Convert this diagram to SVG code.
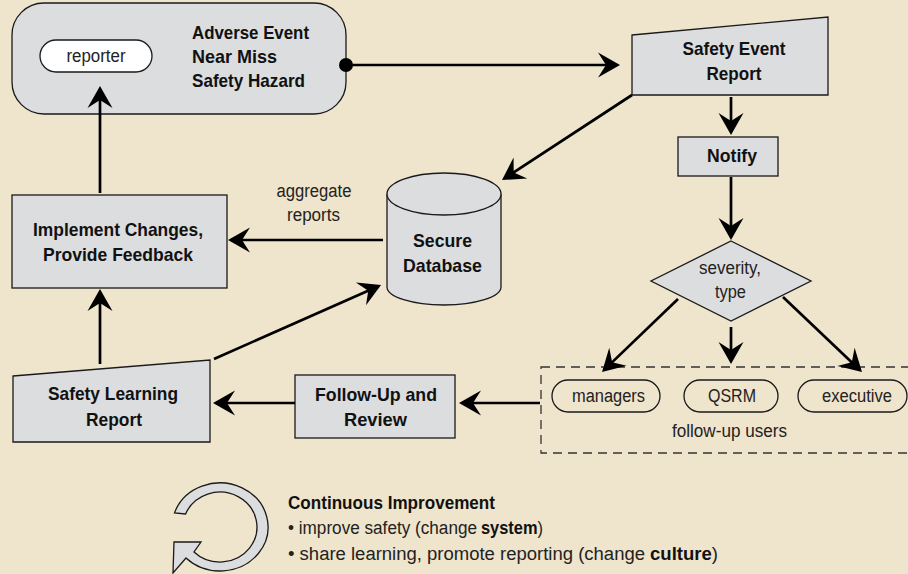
<svg xmlns="http://www.w3.org/2000/svg" width="908" height="574" viewBox="0 0 908 574">
<defs>
<style>
.bg{fill:#EFE4CC}
.box{fill:#DCDDDF;stroke:#1a1a1a;stroke-width:1.3}
.pill{fill:#FFFFFF;stroke:#1a1a1a;stroke-width:1.3}
.pillg{fill:none;stroke:#1a1a1a;stroke-width:1.3}
.dash{fill:none;stroke:#333;stroke-width:1.3;stroke-dasharray:9 6}
.conn line{stroke:#000;stroke-width:2.7;fill:none}
.b{font-family:"Liberation Sans Narrow","Liberation Sans",Arial,sans-serif;font-weight:bold;font-size:19px;fill:#111}
.r{font-family:"Liberation Sans Narrow","Liberation Sans",Arial,sans-serif;font-weight:normal;font-size:18px;fill:#222}
.m{text-anchor:middle}
</style>
<marker id="ah" markerUnits="userSpaceOnUse" markerWidth="28" markerHeight="28" viewBox="0 0 28 28" refX="22" refY="14" orient="auto">
<path d="M25,14 L3,1.5 L11,14 L3,26.5 Z" fill="#000"/>
</marker>
</defs>
<rect class="bg" x="0" y="0" width="908" height="574"/>

<g id="event">
<rect class="box" x="12" y="3" width="334" height="111" rx="32" ry="32"/>
<rect class="pill" x="40" y="40" width="112" height="32" rx="16" ry="16"/>
<text class="r m" x="96" y="62" textLength="59" lengthAdjust="spacingAndGlyphs">reporter</text>
<text class="b" x="192" y="39" textLength="117" lengthAdjust="spacingAndGlyphs">Adverse Event</text>
<text class="b" x="192" y="63" textLength="85" lengthAdjust="spacingAndGlyphs">Near Miss</text>
<text class="b" x="192" y="87" textLength="113" lengthAdjust="spacingAndGlyphs">Safety Hazard</text>
</g>

<g id="safety-event-report">
<polygon class="box" points="632,35 828,17 828,95 632,95"/>
<text class="b m" x="734" y="55" textLength="103" lengthAdjust="spacingAndGlyphs">Safety Event</text>
<text class="b m" x="734" y="80" textLength="55" lengthAdjust="spacingAndGlyphs">Report</text>
</g>

<g id="notify">
<rect class="box" x="678" y="137" width="100" height="39"/>
<text class="b m" x="732" y="162" textLength="50" lengthAdjust="spacingAndGlyphs">Notify</text>
</g>

<g id="severity">
<polygon class="box" points="731,241 811,281 731,321 651,281"/>
<text class="r m" x="730" y="274" textLength="62" lengthAdjust="spacingAndGlyphs">severity,</text>
<text class="r m" x="730.5" y="298" textLength="31" lengthAdjust="spacingAndGlyphs">type</text>
</g>

<g id="follow-up-users">
<rect class="dash" x="541" y="367" width="380" height="86"/>
<rect class="pillg" x="552" y="380" width="108" height="32" rx="16" ry="16"/>
<text class="r m" x="608.5" y="402" textLength="73" lengthAdjust="spacingAndGlyphs">managers</text>
<rect class="pillg" x="684" y="380" width="94" height="32" rx="16" ry="16"/>
<text class="r m" x="732" y="402" textLength="48" lengthAdjust="spacingAndGlyphs">QSRM</text>
<rect class="pillg" x="798" y="380" width="109" height="32" rx="16" ry="16"/>
<text class="r m" x="857" y="402" textLength="70" lengthAdjust="spacingAndGlyphs">executive</text>
<text class="r m" x="729.5" y="437" textLength="115" lengthAdjust="spacingAndGlyphs">follow-up users</text>
</g>

<g id="follow-up-review">
<rect class="box" x="295" y="375" width="160" height="63"/>
<text class="b m" x="376" y="401" textLength="122" lengthAdjust="spacingAndGlyphs">Follow-Up and</text>
<text class="b m" x="375.5" y="426" textLength="63" lengthAdjust="spacingAndGlyphs">Review</text>
</g>

<g id="safety-learning-report">
<polygon class="box" points="13,376 210,360 210,442 13,442"/>
<text class="b m" x="113" y="400" textLength="130" lengthAdjust="spacingAndGlyphs">Safety Learning</text>
<text class="b m" x="114" y="426" textLength="56" lengthAdjust="spacingAndGlyphs">Report</text>
</g>

<g id="implement">
<rect class="box" x="12" y="195" width="215" height="93"/>
<text class="b m" x="118" y="236" textLength="170" lengthAdjust="spacingAndGlyphs">Implement Changes,</text>
<text class="b m" x="118" y="261" textLength="150" lengthAdjust="spacingAndGlyphs">Provide Feedback</text>
</g>

<g id="database">
<path class="box" d="M387,194 L387,287 A57,18 0 0 0 501,287 L501,194"/>
<ellipse class="box" cx="444" cy="194" rx="57" ry="21"/>
<text class="b m" x="442.5" y="247" textLength="59" lengthAdjust="spacingAndGlyphs">Secure</text>
<text class="b m" x="442.5" y="272" textLength="79" lengthAdjust="spacingAndGlyphs">Database</text>
</g>

<g id="connectors" class="conn">
<circle cx="346" cy="65" r="7" fill="#000"/>
<line x1="346" y1="65" x2="617" y2="65" marker-end="url(#ah)"/>
<line x1="731" y1="97" x2="731" y2="132" marker-end="url(#ah)"/>
<line x1="731" y1="177" x2="731" y2="237" marker-end="url(#ah)"/>
<line x1="678" y1="299" x2="604.2" y2="369.9" marker-end="url(#ah)"/>
<line x1="731" y1="327" x2="731" y2="361" marker-end="url(#ah)"/>
<line x1="783" y1="297" x2="859.8" y2="369.9" marker-end="url(#ah)"/>
<line x1="540" y1="403" x2="462" y2="403" marker-end="url(#ah)"/>
<line x1="295" y1="403" x2="216" y2="403" marker-end="url(#ah)"/>
<line x1="214" y1="359" x2="378.3" y2="286.2" marker-end="url(#ah)"/>
<line x1="100" y1="364" x2="100" y2="292" marker-end="url(#ah)"/>
<line x1="100" y1="193" x2="100" y2="89" marker-end="url(#ah)"/>
<line x1="383" y1="240" x2="231" y2="240" marker-end="url(#ah)"/>
<line x1="632" y1="95" x2="504.5" y2="178.4" marker-end="url(#ah)"/>
<text class="r m" x="314" y="197" textLength="75" lengthAdjust="spacingAndGlyphs">aggregate</text>
<text class="r m" x="313.5" y="221" textLength="53" lengthAdjust="spacingAndGlyphs">reports</text>
</g>

<g id="legend">
<path class="box" d="M174.5,513 A48,44 0 1 1 186,558 L173,573 L174,542 L201,542 L194,552 A37,35 0 1 0 185.6,514 Z"/>
<text class="b" x="288" y="509" font-size="18" textLength="207" lengthAdjust="spacingAndGlyphs">Continuous Improvement</text>
<text class="r" x="288" y="534" textLength="189" lengthAdjust="spacingAndGlyphs">• improve safety (change</text>
<text class="b" x="481" y="534" font-size="17" textLength="62" lengthAdjust="spacingAndGlyphs">system<tspan font-weight="normal" fill="#222">)</tspan></text>
<text class="r" x="288" y="560" textLength="357" lengthAdjust="spacingAndGlyphs">• share learning, promote reporting (change</text>
<text class="b" x="650" y="560" font-size="18" textLength="68" lengthAdjust="spacingAndGlyphs">culture<tspan font-weight="normal" fill="#222">)</tspan></text>
</g>
</svg>
